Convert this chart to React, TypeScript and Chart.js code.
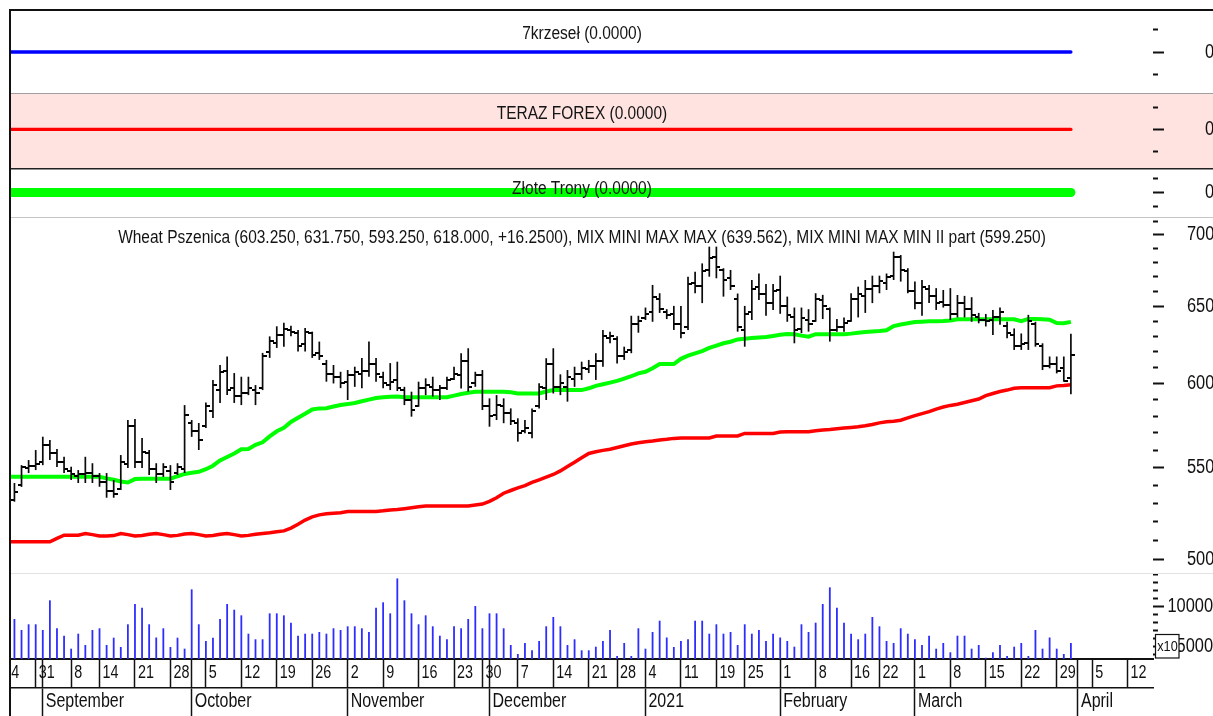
import React, { useEffect, useRef } from 'react';
import { Chart, registerables } from 'chart.js';

Chart.register(...registerables);

// ---------------- layout constants ----------------
const PAGE_W = 1213;
const PLOT_LEFT = 11;
const AXIS_W = 60;
// x axis is a trading-day index: day 0 = Mon 24 Aug 2020
const X_MIN = 1.516;
const X_MAX = 162.58;
const TEXT_SX = 0.82; // horizontal squeeze of all canvas text (narrow look of the original)

// ---------------- x axis ticks ----------------
const weekTickIdx = [0, 5, 10, 14, 19, 24, 29, 34, 39, 44, 49, 54, 59, 64, 68, 73, 78, 83, 87, 91, 96, 101, 105, 110, 115, 120, 124, 129, 134, 139, 144, 149, 154, 159];
const weekTickLabels = ['24', '31', '8', '14', '21', '28', '5', '12', '19', '26', '2', '9', '16', '23', '30', '7', '14', '21', '28', '4', '11', '19', '25', '1', '8', '16', '22', '1', '8', '15', '22', '29', '5', '12'];
const monthTickIdx = [6, 27, 49, 69, 91, 110, 129, 152];
const monthLabels = ['September', 'October', 'November', 'December', '2021', 'February', 'March', 'April'];

// ---------------- Wheat Pszenica daily bars (first bar = day 2, 26 Aug 2020) ----------------
const FIRST_BAR_DAY = 2;
const opens = [
  532, 540, 549.5, 551, 553, 563, 558, 553, 548, 545,
  546, 547, 545, 542, 537, 538, 552, 574, 553, 558,
  549, 546, 548, 547, 549, 576, 571, 574, 583, 596,
  608, 597, 592, 594, 596, 597, 620, 626, 631, 634,
  632, 625, 632, 619, 612, 606, 604, 601, 605, 606,
  608, 612, 604, 599, 602, 596, 590, 586, 597, 598,
  596, 597, 603, 605, 614, 600, 605, 586, 581, 586,
  582, 576, 571, 570, 586, 597, 612, 598, 598, 603,
  606, 609, 611, 614, 629, 628, 617, 621, 638, 642,
  646, 655, 646, 645, 638, 636, 666, 664, 675, 684,
  675, 669, 655, 634, 646, 663, 658, 652, 661, 650,
  643, 635, 641, 640, 654, 648, 634, 636, 640, 655,
  657, 662, 664, 666, 671, 684, 674, 660, 652, 662,
  657, 653, 651, 645, 652, 648, 643, 641, 641, 643,
  637, 631, 624, 626, 638, 624, 611, 612, 610, 603.25,
];
const highs = [
  541.2, 551.3, 554.2, 560.0, 567.8, 565.9, 560.6, 556.1, 550.4, 548.5,
  556.1, 552.4, 546.8, 546.8, 542.9, 557.1, 577.7, 578.3, 567.0, 560.0,
  552.4, 552.4, 551.3, 552.4, 586.7, 577.7, 575.9, 588.2, 602.2, 611.6,
  617.0, 606.5, 604.2, 604.2, 599.0, 619.3, 630.0, 636.6, 639.0, 637.0,
  634.2, 635.5, 633.1, 626.6, 614.8, 611.6, 607.3, 608.4, 610.5, 616.1,
  626.6, 616.1, 607.3, 612.8, 613.7, 597.9, 594.9, 601.1, 603.2, 604.2,
  599.0, 604.2, 610.5, 619.1, 622.3, 607.3, 608.4, 590.8, 592.8, 590.8,
  584.7, 578.7, 577.7, 584.7, 600.1, 615.9, 622.3, 605.7, 608.4, 610.5,
  613.7, 614.8, 619.1, 634.2, 633.1, 630.0, 623.3, 643.6, 643.6, 649.1,
  664.5, 658.8, 648.0, 650.2, 650.2, 670.2, 673.7, 679.5, 691.4, 691.4,
  676.1, 674.9, 658.6, 650.2, 667.9, 672.5, 665.2, 665.2, 670.9, 656.5,
  649.1, 649.1, 648.0, 658.8, 657.7, 649.1, 641.4, 642.5, 658.8, 663.3,
  667.9, 670.9, 670.9, 672.4, 687.8, 685.4, 676.1, 666.8, 667.9, 664.4,
  662.3, 661.0, 662.3, 657.6, 657.0, 656.1, 645.5, 644.8, 647.5, 649.1,
  639.6, 635.2, 631.9, 644.2, 639.6, 625.5, 617.0, 617.0, 617.0, 631.75,
];
const lows = [
  530.8, 539.0, 546.8, 548.5, 551.3, 554.2, 550.2, 546.8, 542.9, 541.2,
  541.2, 541.2, 539.1, 533.0, 533.0, 537.3, 549.6, 549.6, 549.6, 545.7,
  541.2, 544.6, 537.3, 545.7, 546.8, 567.7, 560.0, 572.9, 578.9, 588.0,
  592.8, 588.0, 586.7, 592.8, 586.7, 595.9, 616.1, 622.5, 623.3, 630.0,
  620.2, 620.2, 616.1, 614.8, 601.1, 600.0, 597.1, 589.8, 597.9, 597.1,
  604.2, 601.1, 597.1, 595.9, 595.3, 586.7, 579.7, 585.7, 592.8, 591.9,
  589.8, 595.9, 602.2, 596.9, 594.9, 597.9, 583.7, 573.7, 577.7, 575.8,
  574.7, 564.9, 569.8, 566.9, 584.7, 589.8, 593.8, 592.8, 588.8, 597.9,
  602.2, 606.5, 602.2, 610.5, 625.5, 612.6, 614.8, 619.1, 632.4, 640.8,
  639.6, 645.5, 641.4, 634.2, 628.8, 634.2, 658.8, 652.1, 670.2, 669.1,
  656.5, 661.0, 633.1, 623.3, 640.8, 654.2, 643.6, 647.5, 644.9, 639.6,
  625.5, 632.1, 633.1, 639.6, 641.4, 626.6, 633.1, 633.1, 639.6, 642.5,
  645.5, 652.1, 658.8, 661.0, 667.9, 666.8, 658.8, 648.0, 643.6, 652.1,
  647.5, 649.1, 640.8, 642.5, 642.5, 639.6, 638.6, 636.5, 630.9, 637.6,
  628.8, 621.2, 621.2, 621.2, 623.3, 608.4, 609.5, 606.3, 601.1, 593.25,
];
const closes = [
  536, 550, 551, 552, 563, 558, 553, 549, 546, 546,
  547, 545, 542, 537, 535, 553, 574, 553, 559, 549,
  546, 550, 542, 550, 581, 571, 566, 586, 599, 607,
  596, 592, 594, 597, 594, 617, 627, 631, 635, 633,
  624, 633, 618, 617, 606, 604, 600, 605, 607, 608,
  612, 606, 600, 601, 597, 590, 584, 597, 599, 596,
  597, 602, 606, 614, 598, 605, 586, 580, 587, 582,
  577, 570, 573, 583, 598, 612, 598, 600, 604, 606,
  610, 611, 614, 630, 630, 617, 620, 638, 640, 645,
  656, 648, 644, 638, 632, 665, 664, 674, 683, 677,
  668, 664, 636, 645, 662, 658, 652, 660, 650, 644,
  634, 642, 638, 655, 650, 634, 636, 639, 655, 658,
  662, 664, 667, 670, 684, 675, 660, 652, 663, 657,
  652, 651, 645, 652, 648, 644, 641, 640, 643, 646,
  632, 624, 625, 640, 625, 611, 612, 608, 601.75, 618,
];
const volumes = [
  8462, 7087, 7800, 7800, 7087, 10800, 7300, 6375, 4750, 6625,
  5212, 7087, 7300, 5212, 6125, 4962, 7800, 10337, 9875, 7800,
  6150, 7300, 4962, 6125, 4750, 12170, 7800, 5712, 6125, 8462,
  10337, 9625, 8920, 6625, 5925, 5925, 9170, 9170, 8920, 8000,
  6375, 6625, 6625, 6837, 6625, 7300, 7087, 7550, 7550, 7300,
  6837, 9875, 10550, 9170, 13540, 10800, 9170, 7800, 8920, 7550,
  6375, 5925, 7550, 7300, 8462, 10087, 7300, 9170, 9170, 7300,
  5212, 4087, 5462, 4550, 5712, 7550, 8712, 7550, 5212, 5925,
  4550, 4550, 5000, 5712, 7087, 3837, 5462, 3837, 7300, 4750,
  6837, 8250, 6150, 4962, 5712, 5925, 8250, 8250, 6625, 7800,
  6625, 6837, 5212, 7800, 6625, 7087, 5712, 6625, 6150, 5712,
  5000, 7800, 6837, 8000, 10337, 12420, 9875, 8000, 6625, 5925,
  6625, 8712, 7550, 5712, 5462, 7300, 6625, 5925, 5212, 6375,
  4750, 5462, 4300, 6375, 6375, 4750, 5212, 3625, 4300, 5212,
  3837, 5000, 5462, 3837, 7087, 4750, 6150, 4750, 4087, 5462,
];

// ---------------- indicator lines (first point = day 1) ----------------
const FIRST_LINE_DAY = 1;
const mixMiniMaxMax = [
  544.7, 544.7, 544.7, 544.7, 544.7, 544.7, 544.7, 544.7, 544.7, 544.7, 544.7, 544.7, 544.7, 544.7,
  543.8, 543.0, 542.0, 541.5, 543.4, 543.6, 543.6, 543.6, 543.6, 543.6, 545.0, 546.3, 547.0, 547.5,
  549, 551, 554, 556, 558, 560.5, 560.6, 563, 564.5, 568, 571, 573, 576.5, 579, 581.5, 584,
  584.7, 584.8, 585.8, 586.7, 587.3, 588, 589, 590, 591, 591.5, 591.8, 591.9,
  591.5, 591.5, 591.5, 591.5, 591.5, 591.5, 591.5, 592.5, 593.5, 594.2,
  594.9, 594.9, 594.9, 594.9, 594.9, 594.5, 593.8, 593.8, 593.8, 593.8,
  595, 595.9, 595.9, 595.9, 595.9, 595.9, 597, 598.5, 599.5, 600.5,
  601.6, 603, 604.5, 606.3, 607.3, 609.5, 612.2, 612.2, 612.2, 615.5,
  617.5, 619, 620.5, 622.5, 624, 625.5, 626.5, 628, 628.5, 629,
  629.3, 629.6, 630.3, 631, 631.6, 631.4, 630.5, 629.8, 631.4, 631.4,
  631.4, 631.4, 631.4, 631.8, 632.4, 632.8, 633.2, 633.5, 634, 636.8,
  637.8, 638.6, 639.4, 639.7, 639.9, 640, 640.1, 640.5, 641.3, 641.3,
  641.3, 641.3, 641.3, 641.3, 641.3, 641.3, 641.3, 640, 641.5, 641.5,
  641.3, 641, 638.8, 638.6, 639.562,
];
const mixMiniMaxMinII = [
  509.2, 509.2, 509.2, 509.2, 509.2, 509.2, 509.2,
  511, 512.7, 512.7, 512.7, 513.6, 513, 512.3, 512.3, 512.5, 513.6,
  513, 512.3, 512.5, 513.2, 513.6, 513, 512.3, 512.6, 513.3, 513.6,
  513, 512.3, 512.5, 513.2, 513.6, 513, 512.3, 512.6, 513.2, 513.6,
  514, 514.5, 515, 516.5, 518.5, 520.8, 522.5, 523.6, 524.2, 524.5,
  524.8, 525.4, 525.4, 525.4, 525.4, 525.4, 525.8, 526.3, 526.5, 527,
  527.5, 528, 528.5, 528.5, 528.5, 528.5, 528.5, 528.5, 528.5, 529,
  529.5, 531, 533, 535.5, 537, 538.5, 539.7, 541.5, 543, 544.5,
  546, 548, 550.5, 553, 555.5, 558, 559, 559.8, 560.5, 561.5,
  562.5, 563.5, 564.2, 564.8, 565.3, 565.9, 566.3, 566.8, 567, 567,
  567, 567, 567, 568.2, 568.2, 568.2, 568.2, 569.7, 569.7, 569.7,
  569.7, 569.7, 570.5, 570.7, 570.7, 570.7, 570.7, 571.3, 571.8, 572.1,
  572.5, 572.9, 573.3, 573.7, 574.3, 575, 576, 576.7, 577, 577.6,
  579, 580.3, 581.5, 582.7, 584.3, 585.5, 586.5, 587.2, 588.3, 589.3,
  590.4, 592.5, 593.8, 595, 595.9, 597, 597.3, 597.3, 597.3, 597.3,
  597.3, 598.5, 598.8, 599.25,
];
const value7krzesel = 0;
const valueTerazForex = 0;
const valueZloteTrony = 0;

// ---------------- y axis ticks ----------------
const priceTicks = [500, 510, 520, 530, 540, 550, 560, 570, 580, 590, 600, 610, 620, 630, 640, 650, 660, 670, 680, 690, 700, 710];
const priceMajor = [500, 550, 600, 650, 700];
const PRICE_MIN = 493.0;
const PRICE_MAX = 712.96;
const volumeTicks = [4000, 5000, 6000, 7000, 8000, 9000, 10000, 11000, 12000, 13000, 14000];
const volumeMajor = [5000, 10000];
const VOL_MIN = 3460;
const VOL_MAX = 14090;

const TITLE_MAIN = 'Wheat Pszenica (603.250, 631.750, 593.250, 618.000, +16.2500), MIX MINI MAX MAX (639.562), MIX MINI MAX MIN II part (599.250)';
const TITLE_1 = '7krzeseł (0.0000)';
const TITLE_2 = 'TERAZ FOREX (0.0000)';
const TITLE_3 = 'Złote Trony (0.0000)';

const BASE_FONT = '"Liberation Sans", Arial, sans-serif';
const AXIS_SIZE = 20;
const DAY_SIZE = 17.5;
const MONTH_SIZE = 19.5;

// squeeze every text the canvas draws horizontally (the original uses a narrow face)
function condense(canvas: HTMLCanvasElement) {
  const ctx: any = canvas.getContext('2d');
  if (!ctx || ctx.__condensed) return;
  const orig = ctx.fillText.bind(ctx);
  ctx.fillText = (text: string, x: number, y: number) => {
    ctx.save();
    ctx.translate(x, y);
    ctx.scale(TEXT_SX, 1);
    orig(text, 0, 0);
    ctx.restore();
  };
  ctx.__condensed = true;
}

function textWidth(text: string, size: number) {
  const c = document.createElement('canvas').getContext('2d')!;
  c.font = `${size}px ${BASE_FONT}`;
  return c.measureText(text).width;
}

function tickImage(side: 'left' | 'right') {
  const c = document.createElement('canvas');
  c.width = 8;
  c.height = 2;
  const g = c.getContext('2d')!;
  g.fillStyle = '#000';
  if (side === 'left') g.fillRect(0, 0, 4, 2);
  else g.fillRect(4, 0, 4, 2);
  return c;
}

function framePlugin(bg: string, topLine: string, topLineW: number) {
  return {
    id: 'frame',
    beforeDraw(chart: any) {
      const { ctx, width, height } = chart;
      ctx.save();
      ctx.fillStyle = bg;
      ctx.fillRect(PLOT_LEFT, 0, width - PLOT_LEFT, height);
      ctx.restore();
    },
    afterDraw(chart: any) {
      const { ctx, width, height } = chart;
      ctx.save();
      ctx.fillStyle = '#fff';
      ctx.fillRect(0, 0, 9, height);
      ctx.fillStyle = topLine;
      ctx.fillRect(9, 0, width - 9, topLineW);
      ctx.fillStyle = '#111';
      ctx.fillRect(9, 0, 2, height);
      ctx.restore();
    },
  };
}

function titlePlugin(text: string, cy: number) {
  return {
    id: 'panelTitle',
    afterDatasetsDraw(chart: any) {
      const { ctx, chartArea } = chart;
      const cx = (chartArea.left + chartArea.right) / 2;
      ctx.save();
      ctx.font = `18.9px ${BASE_FONT}`;
      ctx.fillStyle = '#141414';
      ctx.textAlign = 'center';
      ctx.textBaseline = 'middle';
      ctx.fillText(text, cx, cy);
      ctx.restore();
    },
  };
}

const x10Plugin = {
  id: 'x10box',
  afterDraw(chart: any) {
    const { ctx } = chart;
    ctx.save();
    ctx.fillStyle = '#fff';
    ctx.fillRect(1155, 61, 24, 24);
    ctx.strokeStyle = '#111';
    ctx.lineWidth = 1.2;
    ctx.strokeRect(1155.5, 61.5, 23.5, 23.5);
    ctx.font = `15.5px ${BASE_FONT}`;
    ctx.fillStyle = '#111';
    ctx.textAlign = 'center';
    ctx.textBaseline = 'middle';
    ctx.fillText('x10', 1167.5, 74);
    ctx.restore();
  },
};

const noPad = (scale: any) => {
  scale.paddingTop = 0;
  scale.paddingBottom = 0;
  scale.paddingLeft = 0;
  scale.paddingRight = 0;
};

function hiddenX() {
  return { type: 'linear', min: X_MIN, max: X_MAX, bounds: 'data', offset: false, display: false, grid: { offset: false } };
}

function rightAxis(s: any) {
  return {
    type: s.type,
    position: 'right',
    min: s.min,
    max: s.max,
    bounds: 'data',
    beginAtZero: false,
    afterFit: (scale: any) => {
      scale.width = AXIS_W;
      noPad(scale);
    },
    afterBuildTicks: (scale: any) => {
      scale.ticks = s.ticks.map((v: number) => ({ value: v }));
    },
    grid: {
      drawOnChartArea: false,
      drawTicks: true,
      tickLength: 11,
      tickWidth: 2,
      tickColor: '#111',
      tickBorderDash: (ctx: any) => (ctx.tick && s.major.includes(ctx.tick.value) ? [] : [5, 100]),
    },
    border: { display: false },
    ticks: {
      autoSkip: false,
      padding: s.pad,
      crossAlign: s.crossAlign,
      color: '#111',
      font: { family: BASE_FONT, size: AXIS_SIZE },
      callback: (v: any) => (s.major.includes(Number(v)) ? String(v) : ''),
    },
  };
}

function layoutOf(top: number) {
  return { autoPadding: false, padding: { left: PLOT_LEFT, right: 0, top, bottom: 0 } };
}

const common = {
  responsive: false,
  maintainAspectRatio: false,
  animation: false,
  devicePixelRatio: 1,
  events: [],
  plugins: { legend: { display: false }, tooltip: { enabled: false }, title: { display: false } },
};

export default function App() {
  const r1 = useRef<HTMLCanvasElement>(null);
  const r2 = useRef<HTMLCanvasElement>(null);
  const r3 = useRef<HTMLCanvasElement>(null);
  const r4 = useRef<HTMLCanvasElement>(null);
  const r5 = useRef<HTMLCanvasElement>(null);

  useEffect(() => {
    Chart.defaults.font.family = BASE_FONT;
    [r1, r2, r3, r4, r5].forEach((r) => r.current && condense(r.current));

    const charts: Chart[] = [];
    const lineDays = mixMiniMaxMax.map((_, k) => FIRST_LINE_DAY + k);

    const panel = (canvas: HTMLCanvasElement, value: number, color: string, width: number, title: string, titleY: number, bg: string, topLine: string, topLineW: number, padTop: number, yMin: number, minor: number) =>
      new Chart(canvas, {
        type: 'line',
        data: {
          datasets: [
            {
              data: lineDays.map((x) => ({ x, y: value })),
              borderColor: color,
              borderWidth: width,
              borderCapStyle: 'round',
              pointRadius: 0,
              tension: 0,
            },
          ],
        },
        options: {
          ...common,
          layout: layoutOf(padTop),
          scales: {
            x: hiddenX(),
            y: rightAxis({ type: 'linear', min: yMin, max: 1, ticks: [-minor, 0, minor], major: [0], pad: 41, crossAlign: 'near' }),
          },
        } as any,
        plugins: [framePlugin(bg, topLine, topLineW), titlePlugin(title, titleY)],
      } as any);

    charts.push(panel(r1.current!, value7krzesel, 'rgb(0,0,255)', 3.3, TITLE_1, 25, '#fff', '#111', 2, 2, -1, 0.54));
    charts.push(panel(r2.current!, valueTerazForex, 'rgb(255,0,0)', 3.3, TITLE_2, 21, '#ffe3e1', '#a0a0a0', 1, 0, -1.06, 0.6));
    charts.push(panel(r3.current!, valueZloteTrony, 'rgb(0,255,0)', 9, TITLE_3, 21, '#fff', '#222', 1.5, 0, -1, 0.56));

    const openImg = tickImage('left');
    const closeImg = tickImage('right');
    const hl = highs.map((h, k) => ({ x: FIRST_BAR_DAY + k, y: [lows[k], h] }));
    const op = opens.map((o, k) => ({ x: FIRST_BAR_DAY + k, y: o }));
    const cl = closes.map((c, k) => ({ x: FIRST_BAR_DAY + k, y: c }));

    charts.push(
      new Chart(r4.current!, {
        type: 'bar',
        data: {
          datasets: [
            { type: 'bar', data: hl, backgroundColor: '#0a0a0a', barThickness: 1.7, inflateAmount: 0, borderWidth: 0, order: 0 },
            { type: 'line', data: op, showLine: false, pointStyle: openImg, pointRadius: 2, pointHoverRadius: 2, order: 0 },
            { type: 'line', data: cl, showLine: false, pointStyle: closeImg, pointRadius: 2, pointHoverRadius: 2, order: 0 },
            {
              type: 'line',
              data: mixMiniMaxMax.map((v, k) => ({ x: FIRST_LINE_DAY + k, y: v })),
              borderColor: 'rgb(0,255,0)',
              borderWidth: 4,
              pointRadius: 0,
              tension: 0,
              order: 2,
            },
            {
              type: 'line',
              data: mixMiniMaxMinII.map((v, k) => ({ x: FIRST_LINE_DAY + k, y: v })),
              borderColor: 'rgb(255,0,0)',
              borderWidth: 3.5,
              pointRadius: 0,
              tension: 0,
              order: 2,
            },
          ],
        },
        options: {
          ...common,
          layout: layoutOf(0),
          scales: {
            x: hiddenX(),
            y: rightAxis({ type: 'logarithmic', min: PRICE_MIN, max: PRICE_MAX, ticks: priceTicks, major: priceMajor, pad: 23, crossAlign: 'near' }),
          },
        } as any,
        plugins: [framePlugin('#fff', '#c4c4c4', 1), titlePlugin(TITLE_MAIN, 21)],
      } as any)
    );

    const dayRowTicks = Array.from(new Set([...weekTickIdx, ...monthTickIdx])).sort((a, b) => a - b);
    const vol = volumes.map((v, k) => ({ x: FIRST_BAR_DAY + k, y: v }));
    // volume labels are right-aligned; Chart.js aligns on the unsqueezed width, so correct the padding
    const wVol = textWidth('10000', AXIS_SIZE);
    const volPad = 1213.5 - (PAGE_W - AXIS_W) - 11 - wVol;

    charts.push(
      new Chart(r5.current!, {
        type: 'bar',
        data: {
          datasets: [
            { type: 'bar', data: vol, backgroundColor: 'rgb(45,45,255)', barThickness: 1.8, inflateAmount: 0, borderWidth: 0, base: VOL_MIN, xAxisID: 'x', yAxisID: 'yv' },
          ],
        },
        options: {
          ...common,
          layout: layoutOf(1),
          scales: {
            x: {
              type: 'linear',
              min: X_MIN,
              max: X_MAX,
              bounds: 'data',
              offset: false,
              position: 'bottom',
              weight: 0,
              afterBuildTicks: (s: any) => {
                s.ticks = dayRowTicks.map((v) => ({ value: v }));
              },
              afterFit: (s: any) => {
                s.height = 29;
                noPad(s);
              },
              grid: { offset: false, drawOnChartArea: false, drawTicks: true, tickLength: 29, tickWidth: 1.5, tickColor: '#111' },
              border: { display: true, color: '#111', width: 2 },
              ticks: {
                autoSkip: false,
                maxRotation: 0,
                minRotation: 0,
                align: 'start',
                labelOffset: 3,
                padding: -15 - 0.6 * DAY_SIZE,
                color: '#111',
                font: { family: BASE_FONT, size: DAY_SIZE },
                callback: (v: any) => {
                  const k = weekTickIdx.indexOf(Number(v));
                  return k >= 0 ? weekTickLabels[k] : '';
                },
              },
            },
            x2: {
              type: 'linear',
              min: X_MIN,
              max: X_MAX,
              bounds: 'data',
              offset: false,
              position: 'bottom',
              weight: 1,
              afterBuildTicks: (s: any) => {
                s.ticks = monthTickIdx.map((v) => ({ value: v }));
              },
              afterFit: (s: any) => {
                s.height = 28;
                noPad(s);
              },
              grid: { offset: false, drawOnChartArea: false, drawTicks: true, tickLength: 28, tickWidth: 1.5, tickColor: '#111' },
              border: { display: true, color: '#111', width: 1.5 },
              ticks: {
                autoSkip: false,
                maxRotation: 0,
                minRotation: 0,
                align: 'start',
                labelOffset: 3,
                padding: -14 - 0.6 * MONTH_SIZE,
                color: '#111',
                font: { family: BASE_FONT, size: MONTH_SIZE },
                callback: (v: any) => {
                  const k = monthTickIdx.indexOf(Number(v));
                  return k >= 0 ? monthLabels[k] : '';
                },
              },
            },
            yv: rightAxis({ type: 'linear', min: VOL_MIN, max: VOL_MAX, ticks: volumeTicks, major: volumeMajor, pad: volPad, crossAlign: 'far' }),
          },
        } as any,
        plugins: [framePlugin('#fff', '#e2e2e2', 1), x10Plugin],
      } as any)
    );

    return () => {
      charts.forEach((c) => c.destroy());
    };
  }, []);

  const cs = (top: number) => ({ position: 'absolute' as const, left: 0, top, display: 'block' });
  return (
    <div style={{ position: 'absolute', left: 0, top: 0, width: PAGE_W, height: 716, overflow: 'hidden', background: '#fff' }}>
      <canvas ref={r1} width={PAGE_W} height={84} style={cs(9)} />
      <canvas ref={r2} width={PAGE_W} height={75} style={cs(93)} />
      <canvas ref={r3} width={PAGE_W} height={49} style={cs(168)} />
      <canvas ref={r4} width={PAGE_W} height={356} style={cs(217)} />
      <canvas ref={r5} width={PAGE_W} height={143} style={cs(573)} />
    </div>
  );
}
